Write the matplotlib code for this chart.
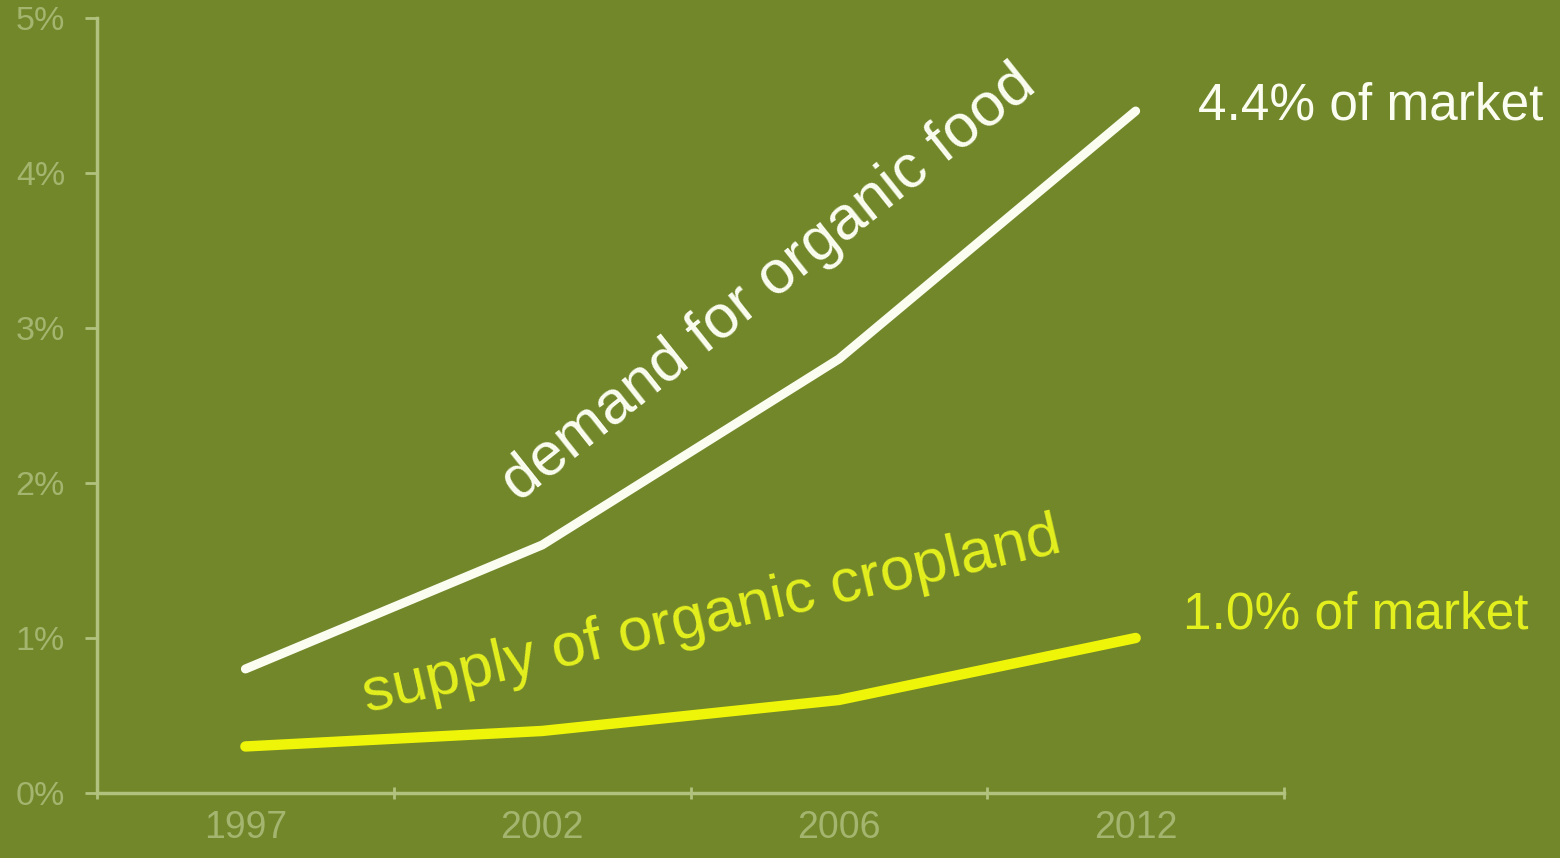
import matplotlib
matplotlib.use("Agg")
import matplotlib.pyplot as plt
import numpy as np

# Data
years = ["1997", "2002", "2006", "2012"]
demand = [0.8, 1.6, 2.8, 4.4]   # % of market
supply = [0.3, 0.4, 0.6, 1.0]   # % of market
y_ticks = [0, 1, 2, 3, 4, 5]
y_tick_labels = ["0%", "1%", "2%", "3%", "4%", "5%"]

BG = "#71872a"
AXIS = "#b1c27f"
TICKTXT = "#a3b56e"
WHITE = "#fbfdf0"
YELLOW = "#eef508"
YELLOW_TXT = "#e4ef1e"

plt.rcParams["font.family"] = ["Liberation Sans", "DejaVu Sans"]

fig = plt.figure(figsize=(15.6, 8.58), dpi=100, facecolor=BG)
ax = fig.add_axes([0.0622, 0.0758, 0.7609, 0.9032], facecolor=BG)

x = np.arange(len(years))
ax.plot(x, demand, color=WHITE, lw=6.5, solid_capstyle="round", solid_joinstyle="round")
ax.plot(x, supply, color=YELLOW, lw=7.5, solid_capstyle="round", solid_joinstyle="round")

ax.set_xlim(-0.5, len(years) - 0.5)
ax.set_ylim(0, 5)

# category boundaries as major ticks, labels centred as minor ticks
ax.set_xticks(np.arange(len(years) + 1) - 0.5)
ax.set_xticklabels([])
ax.set_xticks(x, minor=True)
ax.set_xticklabels(years, minor=True)
ax.tick_params(axis="x", which="major", direction="inout", length=8, width=2, color=AXIS)
ax.tick_params(axis="x", which="minor", length=0, pad=12, labelsize=27, labelcolor=TICKTXT)

ax.set_yticks(y_ticks)
ax.set_yticklabels(y_tick_labels)
ax.tick_params(axis="y", direction="out", length=9, width=2, color=AXIS,
               pad=14, labelsize=24.5, labelcolor=TICKTXT)

for s in ["top", "right"]:
    ax.spines[s].set_visible(False)
for s in ["left", "bottom"]:
    ax.spines[s].set_color(AXIS)
    ax.spines[s].set_linewidth(2.5)

ax.text(0.92, 1.87, "demand for organic food", rotation=38.5, rotation_mode="anchor",
        ha="left", va="baseline", fontsize=44, color=WHITE, clip_on=False)
ax.text(0.41, 0.52, "supply of organic cropland", rotation=13, rotation_mode="anchor",
        ha="left", va="baseline", fontsize=44, color=YELLOW_TXT, clip_on=False)

ax.text(3.21, 4.43, f"{demand[-1]:.1f}% of market", ha="left", va="center",
        fontsize=37, color=WHITE, clip_on=False)
ax.text(3.16, 1.15, f"{supply[-1]:.1f}% of market", ha="left", va="center",
        fontsize=37, color=YELLOW_TXT, clip_on=False)

fig.savefig("out.png", dpi=100, facecolor=BG)
